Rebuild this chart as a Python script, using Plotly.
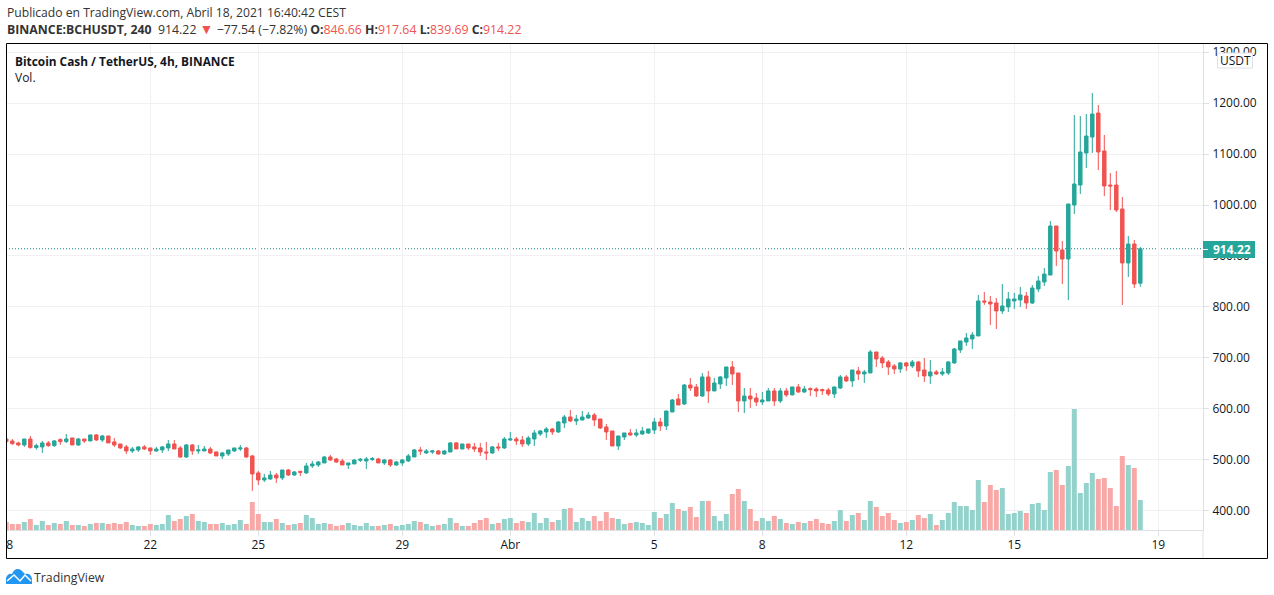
import plotly.graph_objects as go
import pandas as pd

# BCH/USDT 4h candles
opens = [541.2,537.3,533.4,529.5,541.2,524.3,525.6,533.4,528.2,539.9,
         536,543.2,529.5,541.2,537.3,549.1,539.3,547.1,535.4,531.4,
         525.6,517.7,519.7,525.6,523.6,517.7,519.7,523.6,531.4,523.6,
         505.9,529.5,517.7,517.7,521.6,515.8,507.9,511.8,517.7,521.6,
         523.6,507.9,474.6,460.8,462.8,470.6,464.8,480.4,470.6,477.8,
         474.6,488.3,490.2,494.2,505.9,502,498.1,490.2,492.2,499.4,
         498.1,500.7,502,494.2,500,490.2,494.2,498.1,505.9,519.7,
         513.8,515.7,517.7,511.8,515.7,533.4,521.6,531.4,525.6,523.6,
         515.7,513.8,525.6,523.6,539.2,541.2,539.2,531.4,541.2,551,
         554.9,560.8,554.9,572.6,584.3,576.5,578.4,582.4,588.2,580.4,
         564.7,556.9,527.5,545.1,553,549,551,553,558.8,574.5,
         566.7,594.1,619.6,609.8,647,643.2,625.5,662.8,635.3,649,
         660.8,682.4,670.6,615.7,625.5,621.6,613.8,615.7,635.4,615.7,
         635.4,627.5,643.2,633.4,639.9,639.3,638,637.3,629.5,641.2,
         662.8,655,674.6,668.7,670.6,711.8,700,692.2,684.4,678.5,
         690.3,684.4,692.2,676.5,664.8,672.6,668.7,670.6,690.3,715.7,
         731.4,737.3,743.2,811.8,809.9,807.9,792.2,800,811.8,813.8,
         821.6,807.8,835.3,849,862.7,958.8,911.8,894.1,1000,1039.2,
         1102,1133.3,1180.4,1105.9,1039.2,1039.2,992.2,886.3,923.5,846.66]
highs = [541.2,541.2,536,541.2,547.1,532.1,537.3,537.3,539.3,542.6,
         551,543.2,543.2,541.2,549.1,551,549.1,547.1,543.2,531.4,
         529.5,525.6,527.5,529.5,523.6,525.6,527.5,539.3,539.3,527.5,
         531.4,531.4,529.5,527.5,525.6,515.8,515.8,519.7,523.6,529.5,
         525.6,509.9,478.5,472.6,478.5,474.6,480.4,482.4,478.5,477.8,
         494.2,498.1,498.1,507.9,509.9,504,502,494.2,502,504,
         505.9,505.9,504,502,502,498.1,502,511.8,521.6,525.6,
         521.6,519.7,519.7,519.7,535.3,535.3,531.4,531.4,533.4,533.4,
         535.3,527.5,533.4,545.2,554.9,545.1,547.1,547.1,558.8,558.8,
         564.7,562.8,576.5,588.2,598.1,588.2,596.1,594.1,592.2,580.4,
         570.6,556.9,547.1,553,560.8,560.8,564.7,560.8,582.4,582.4,
         596.1,619.6,629.4,649,660.8,649,670.6,674.5,660.8,664.7,
         682.4,694.1,670.6,641.2,641.2,631.4,633.4,641.2,641.2,641.2,
         641.2,643.2,649.1,645.2,642.5,642.5,639.9,641.2,643.2,666.7,
         666.7,676.5,682.4,676.5,715.7,711.8,704,696.1,688.3,692.2,
         692.2,696.1,694.2,700,696.1,676.5,680.4,694.2,719.7,733.4,
         749.1,751,823.6,829.5,821.6,817.7,845.2,829.5,827.5,839.3,
         829.5,843.1,860.8,876.5,968.6,958.8,929.4,1002,1176.5,1174.5,
         1178.4,1219.6,1196,1137.3,1062.8,1066.7,1015.7,939.2,931.4,917.64]
lows = [536,529.5,526.9,525.6,522.3,520.3,513.8,525.6,525.6,529.5,
        533.4,529.5,527.5,533.4,537.3,537.3,535.4,533.4,525.6,521.6,
        511.8,513.8,515.8,519.7,509.9,515.8,513.8,517.7,521.6,504,
        504,509.9,511.8,517.7,511.8,507.9,502,507.9,515.8,517.7,
        504,439.3,451,456.9,460.8,454.9,460.8,468.7,468.7,468.7,
        472.6,484.4,486.3,494.2,498.1,494.2,490.2,482.4,492.2,496.1,
        482.4,498.1,494.2,490.2,486.3,488.3,488.3,496.1,505.9,509.9,
        511.8,511.8,509.9,509.9,515.7,521.6,521.6,519.7,515.7,507.9,
        500,511.8,517.7,521.6,537.3,529.4,525.5,527.5,527.5,547.1,
        543.2,549,553,562.8,574.5,568.6,578.4,580.4,566.7,560.8,
        539.2,527.5,519.6,539.2,547.1,545.1,549,551,551,556.9,
        558.8,594.1,607.9,607.9,635.3,623.5,623.5,611.8,635.3,639.2,
        645.1,647.1,594.1,592.2,602,605.9,607.9,615.7,605.9,611.8,
        623.6,627.5,631.4,631.4,625.5,623.6,627.5,625.5,621.6,639.3,
        653,643.2,656.9,651,670.6,682.4,680.4,666.7,668.7,670.6,
        674.6,680.4,662.8,653,649.1,666.7,664.8,666.7,688.3,709.9,
        723.6,717.7,743.2,804,764.8,756.9,786.3,790.3,796.1,800,
        796.1,805.9,829.4,841.2,862.7,880.4,845.1,813.7,982.4,1021.6,
        1072.5,1102,1068.6,1017.6,990.2,986.3,803.9,858.8,837.2,839.69]
closes = [536,532.1,529.5,541.2,524.3,528.2,533.4,528.2,537.3,536,
          541.2,529.5,541.2,537.3,549.1,539.3,547.1,533.4,529.5,523.6,
          517.7,521.6,525.6,521.6,517.7,521.6,525.6,531.4,521.6,505.9,
          529.5,517.7,519.7,521.6,513.8,507.9,513.8,519.7,523.6,523.6,
          505.9,472.6,460.8,464.8,470.6,464.8,480.4,470.6,476.5,475.9,
          488.3,492.2,496.1,505.9,500,496.1,490.2,494.2,500,501.4,
          502,502.7,494.2,500,490.2,496.1,500,507.9,519.7,517.7,
          517.7,517.7,511.8,517.7,533.4,521.6,531.4,523.6,521.6,515.7,
          513.8,525.6,523.6,541.2,541.2,537.3,531.4,543.2,553,556.9,
          560.8,554.9,574.5,584.3,576.5,580.4,584.3,588.2,578.4,562.8,
          554.9,527.5,547.1,553,549,553,556.9,560.8,574.5,566.7,
          596.1,617.7,607.9,647,641.2,625.5,662.8,635.3,651,662.8,
          682.4,668.6,615.7,625.5,619.6,613.7,617.7,635.4,615.7,635.4,
          627.5,643.2,633.4,639.3,638,635.4,636,629.5,643.2,662.8,
          655,676.5,668.7,672.6,711.8,698.1,690.3,682.4,678.5,690.3,
          684.4,692.2,674.6,664.8,672.6,668.7,672.6,692.2,717.7,733.4,
          739.3,745.2,811.8,809.9,805.9,792.2,802,815.7,815.7,823.6,
          807.9,837.3,851,864.7,958.8,909.8,894.1,1002,1041.2,1103.9,
          1135.3,1178.4,1103.9,1037.3,1037.3,990.2,886.3,923.5,845.1,914.22]
volumes = [8,6,6,8,11,5,9,5,7,6,
           9,5,5,4,6,7,7,6,7,6,
           8,5,4,4,6,5,6,15,9,11,
           14,16,9,8,6,6,7,5,6,10,
           6,28,16,8,8,11,7,5,6,7,
           15,12,6,7,6,4,5,7,5,4,
           7,4,4,5,6,4,5,6,9,8,
           6,4,5,6,12,7,4,4,7,10,
           12,6,7,11,12,7,9,8,17,7,
           12,8,10,21,22,8,12,9,14,9,
           18,12,11,6,7,8,7,5,18,12,
           16,27,21,19,23,13,29,29,14,9,
           16,36,41,29,21,9,12,9,14,11,
           7,6,8,7,9,11,7,6,9,20,
           9,15,17,10,29,23,14,17,10,7,
           8,10,15,12,16,5,10,17,28,24,
           24,20,50,28,45,40,42,16,17,19,
           17,26,27,20,58,60,45,64,121,37,
           47,57,51,52,42,24,74,65,62,30]

tick_dates = ["2021-03-18", "2021-03-22", "2021-03-25", "2021-03-29", "2021-04-01",
              "2021-04-05", "2021-04-08", "2021-04-12", "2021-04-15", "2021-04-19"]
tick_labels = ["18", "22", "25", "29", "Abr", "5", "8", "12", "15", "19"]
price_ticks = [400, 500, 600, 700, 800, 900, 1000, 1100, 1200, 1300]

dates = pd.date_range("2021-03-18 00:00", periods=len(closes), freq="4h")

GREEN = "#26a69a"
RED = "#f05350"
GREEN_VOL = "#93d3cc"
RED_VOL = "#f8a9a7"
GRID = "#f1f1f3"
AXIS = "#dfe0e3"
TEXT = "#131722"
FONT = "Open Sans"

# plot area is 1203 x 486 px, starting at the page's left edge and y=44
def px(x):
    return x / 1203

def py(y):
    return (530 - y) / 486

vol_colors = [GREEN_VOL if c >= o else RED_VOL for o, c in zip(opens, closes)]

fig = go.Figure()
fig.add_trace(go.Candlestick(
    x=dates, open=opens, high=highs, low=lows, close=closes,
    increasing=dict(line=dict(color=GREEN, width=1), fillcolor=GREEN),
    decreasing=dict(line=dict(color=RED, width=1), fillcolor=RED),
    whiskerwidth=0, showlegend=False,
))
fig.add_trace(go.Bar(x=dates, y=volumes, marker=dict(color=vol_colors, line_width=0),
                     yaxis="y2", showlegend=False))

def text(x, y, s, size=12, color=TEXT, **kw):
    anchor = kw.pop("xanchor", "left")
    fig.add_annotation(xref="paper", yref="paper", x=px(x), y=py(y), text=s, showarrow=False,
                       xanchor=anchor, yanchor="middle", xshift=-2 if anchor == "left" else 0,
                       font=dict(family=FONT, size=size, color=color), **kw)

# header lines
text(7, 12, "Publicado en TradingView.com, Abril 18, 2021 16:40:42 CEST", size=12.15, color="#333333")
red = '<span style="color:#f05350">%s</span>'
tri = '<span style="color:#f05350;font-size:14px">▼</span>'
text(7, 28.5, "<b>BINANCE:BCHUSDT, 240</b>  914.22 " + tri + " −77.54 (−7.82%) "
     + "<b>O:</b>" + red % "846.66" + " <b>H:</b>" + red % "917.64"
     + " <b>L:</b>" + red % "839.69" + " <b>C:</b>" + red % "914.22", size=12.3, color="#333333")
text(15, 60.5, "<b>Bitcoin Cash / TetherUS, 4h, BINANCE</b>", size=11.85)
text(15, 77.5, "Vol.")
text(34, 577, "TradingView", size=12.3, color="#333333")

# last price tag and currency box on the price scale
text(1232, 249.5, "<b>914.22</b>", color="white", xanchor="center")
text(1235, 60.5, "USDT", xanchor="center")

shapes = [
    # dotted last price line
    dict(type="line", xref="paper", yref="y", x0=0, x1=1, y0=closes[-1], y1=closes[-1],
         line=dict(color="#168a7e", width=1, dash="1px,2px"), layer="below"),
    dict(type="rect", xref="paper", yref="paper", x0=px(1203), x1=px(1255), y0=py(241), y1=py(258),
         fillcolor=GREEN, line_width=0),
    dict(type="line", xref="paper", yref="paper", x0=px(1203), x1=px(1208), y0=py(249.5), y1=py(249.5),
         line=dict(color="white", width=1)),
    dict(type="rect", xref="paper", yref="paper", x0=px(1217.5), x1=px(1252.5), y0=py(53), y1=py(68),
         fillcolor="white", line=dict(color=AXIS, width=1)),
    # hide what falls left of the frame
    dict(type="rect", xref="paper", yref="paper", x0=0, x1=px(6.5), y0=py(560), y1=py(40),
         fillcolor="white", line_width=0),
    # price scale separator down to the frame
    dict(type="line", xref="paper", yref="paper", x0=1, x1=1, y0=py(530), y1=py(558),
         line=dict(color=AXIS, width=1)),
    # frame
    dict(type="rect", xref="paper", yref="paper", x0=px(6.5), x1=px(1267.5), y0=py(558.5), y1=py(43.5),
         line=dict(color="black", width=1)),
    # logo
    dict(type="path", xref="paper", yref="paper", fillcolor="#2196f3", line_width=0,
         path="M%f,%f L%f,%f Q%f,%f %f,%f Q%f,%f %f,%f Q%f,%f %f,%f Q%f,%f %f,%f L%f,%f Z" % (
             px(6), py(584), px(6), py(578), px(8), py(573), px(12), py(574),
             px(15), py(567), px(21), py(570), px(23), py(572), px(25), py(574),
             px(31), py(573), px(32), py(579), px(32), py(584))),
    dict(type="path", xref="paper", yref="paper", line=dict(color="white", width=1.5),
         path="M%f,%f L%f,%f L%f,%f L%f,%f L%f,%f" % (
             px(7), py(581), px(14), py(575), px(20), py(581), px(25), py(575), px(31), py(581))),
]

fig.update_layout(
    width=1274, height=595, margin=dict(l=0, r=71, t=44, b=65),
    paper_bgcolor="white", plot_bgcolor="white", bargap=0.17, boxgap=0.18,
    shapes=shapes, hovermode=False,
    font=dict(family=FONT, size=12, color=TEXT),
    xaxis=dict(type="date", range=["2021-03-17 19:48", "2021-04-20 05:48"],
               rangeslider=dict(visible=False),
               tickmode="array", tickvals=tick_dates, ticktext=tick_labels,
               ticklabeloverflow="allow", ticklabelstandoff=-1,
               showgrid=True, gridcolor=GRID, gridwidth=1, zeroline=False,
               showline=True, linecolor=AXIS, linewidth=1,
               ticks="outside", ticklen=5, tickcolor=AXIS, tickangle=0),
    yaxis=dict(side="right", range=[362.7, 1315.7], tickmode="array", tickvals=price_ticks,
               tickformat=".2f", showgrid=True, gridcolor=GRID, gridwidth=1, zeroline=False,
               showline=True, linecolor=AXIS, linewidth=1,
               ticks="outside", ticklen=5, tickcolor=AXIS, ticklabelstandoff=1),
    yaxis2=dict(overlaying="y", range=[0, 486], visible=False),
)

fig.write_html("out.html", config={"displayModeBar": False},
               post_script="document.body.style.margin='0';")
